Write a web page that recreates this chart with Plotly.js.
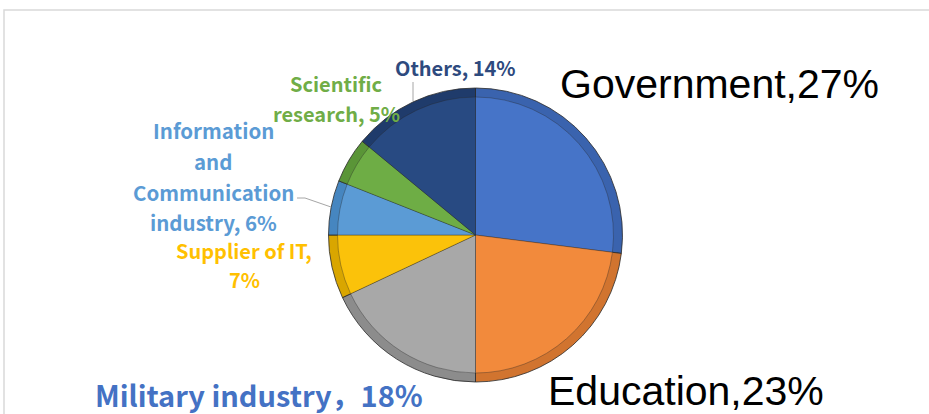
<!DOCTYPE html>
<html>
<head>
<meta charset="utf-8">
<script src="https://cdn.plot.ly/plotly-3.0.1.min.js"></script>
<style>
html,body{margin:0;padding:0;background:#fff;}
#chart{width:929px;height:414px;}
</style>
</head>
<body>
<div id="chart"></div>
<script>
// ---- data ----
const categories = ['Government', 'Education', 'Military industry', 'Supplier of IT', 'Information and Communication industry', 'Scientific research', 'Others'];
const values = [27, 23, 18, 7, 6, 5, 14];
const labelLines = [
  ['Government,' + values[0] + '%'],
  ['Education,' + values[1] + '%'],
  ['Military industry\uFF0C' + values[2] + '%'],
  ['Supplier of IT,', values[3] + '%'],
  ['Information', 'and', 'Communication', 'industry, ' + values[4] + '%'],
  ['Scientific', 'research, ' + values[5] + '%'],
  ['Others, ' + values[6] + '%']
];
const sliceColors = ['#4674C8', '#F28A3C', '#A8A8A8', '#FBC20A', '#5B9BD5', '#6EAD45', '#284A82'];
const edgeColors  = ['#3A63AE', '#D1742F', '#8C8C8C', '#D9A600', '#4686C0', '#5A9537', '#1F3B6B'];
const labelColors = ['#000000', '#000000', '#4472C4', '#FFC000', '#5B9BD5', '#70AD47', '#2E4A7E'];

// ---- layout helpers ----
const W = 929, H = 414;
const px = x => x / W;
const py = y => 1 - y / H;
const cx = 475.5, cy = 235, R = 147;

function dom(r) {
  return { x: [px(cx - r), px(cx + r)], y: [py(cy + r), py(cy - r)] };
}

const baseTrace = {
  type: 'pie',
  labels: categories,
  values: values,
  sort: false,
  direction: 'clockwise',
  rotation: 0,
  textinfo: 'none',
  hoverinfo: 'skip',
  showlegend: false
};

const traces = [
  Object.assign({}, baseTrace, { domain: dom(R), marker: { colors: edgeColors, line: { color: '#2a2a2a', width: 0.8 } } }),
  Object.assign({}, baseTrace, { domain: dom(R - 9), marker: { colors: sliceColors, line: { color: 'rgba(40,40,40,0.6)', width: 0.6 } } })
];

// label positions (pixel centres of each line)
const labelPos = [
  { x: 719, y: [84], size: 41, family: 'Liberation Sans, Arial, sans-serif', weight: 'normal' },
  { x: 686, y: [391], size: 41, family: 'Liberation Sans, Arial, sans-serif', weight: 'normal' },
  { x: 259, y: [394], size: 29, family: 'Noto Sans CJK SC, sans-serif', weight: 'bold' },
  { x: 244, y: [250, 279], size: 20, family: 'Noto Sans CJK SC, sans-serif', weight: 'bold' },
  { x: 213, y: [130, 161, 192, 222], size: 20.5, family: 'Noto Sans CJK SC, sans-serif', weight: 'bold' },
  { x: 336, y: [83, 113], size: 20, family: 'Noto Sans CJK SC, sans-serif', weight: 'bold' },
  { x: 455, y: [67], size: 20, family: 'Noto Sans CJK SC, sans-serif', weight: 'bold' }
];

const annotations = [];
labelLines.forEach((lines, i) => {
  const p = labelPos[i];
  lines.forEach((t, j) => {
    annotations.push({
      xref: 'paper', yref: 'paper',
      x: px(p.x), y: py(p.y[j]),
      xanchor: 'center', yanchor: 'middle',
      text: t, showarrow: false,
      font: { family: p.family, size: p.size, color: labelColors[i], weight: p.weight }
    });
  });
});

const shapes = [
  { type: 'rect', xref: 'paper', yref: 'paper', x0: px(4), x1: px(940), y0: py(440), y1: py(10),
    line: { color: '#d9d9d9', width: 1.5 }, fillcolor: 'rgba(0,0,0,0)', layer: 'below' },
  { type: 'line', xref: 'paper', yref: 'paper', x0: px(413), y0: py(82), x1: px(413), y1: py(101),
    line: { color: '#a6a6a6', width: 1 } },
  { type: 'path', xref: 'paper', yref: 'paper',
    path: `M ${px(297)} ${py(198)} L ${px(305)} ${py(198)} L ${px(331)} ${py(207)}`,
    line: { color: '#a6a6a6', width: 1 } }
];

const layout = {
  width: W, height: H,
  margin: { l: 0, r: 0, t: 0, b: 0 },
  paper_bgcolor: '#ffffff',
  plot_bgcolor: '#ffffff',
  showlegend: false,
  annotations: annotations,
  shapes: shapes
};

Plotly.newPlot('chart', traces, layout, { displayModeBar: false, staticPlot: true });
</script>
</body>
</html>
